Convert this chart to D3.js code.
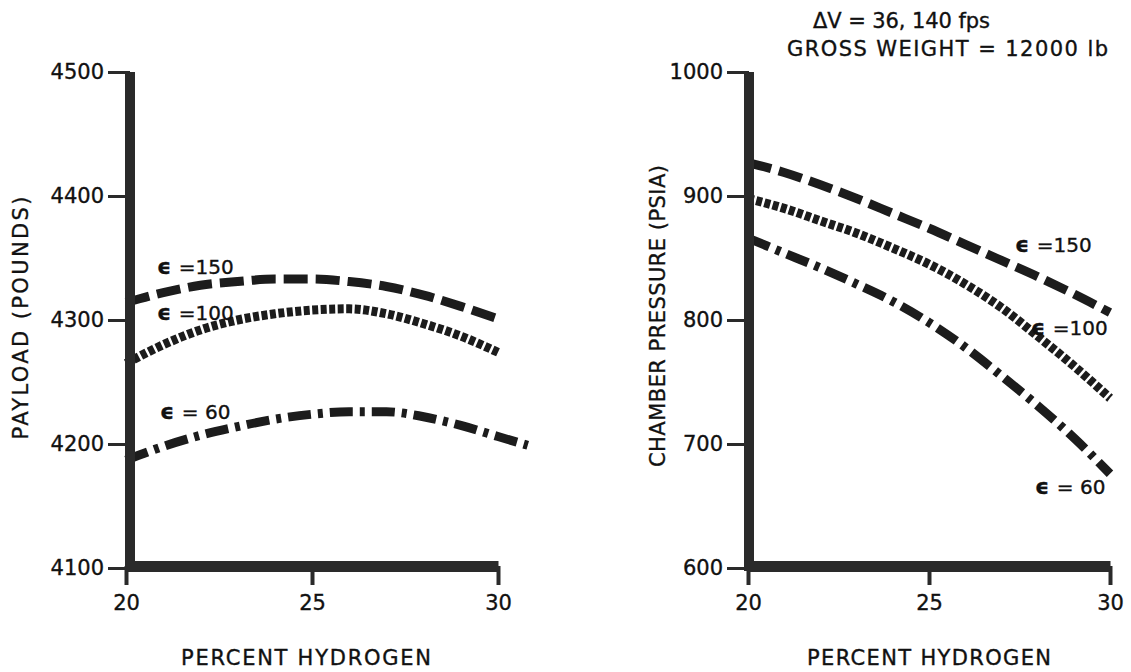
<!DOCTYPE html>
<html>
<head>
<meta charset="utf-8">
<script src="https://cdn.jsdelivr.net/npm/d3@7"></script>
<style>
  html, body { margin: 0; padding: 0; background: #fff; }
  svg { display: block; }
  text { font-family: "DejaVu Sans", "Liberation Sans", sans-serif; fill: #111; stroke: #111; stroke-width: 0.35px; }
</style>
</head>
<body>
<svg id="chart" width="1131" height="672"></svg>
<script>
// ---------- data ----------
const hydrogenPct    = [20, 21, 22, 23, 24, 25, 26, 27, 28, 29, 30];
const hydrogenPctExt = [20, 21, 22, 23, 24, 25, 26, 27, 28, 29, 30, 30.8];

const payload150 = [4314, 4322, 4328, 4331, 4333, 4333, 4331, 4327, 4320, 4311, 4301];
const payload100 = [4265, 4280, 4292, 4300, 4305, 4308, 4309, 4305, 4297, 4287, 4274];
const payload60  = [4187, 4198, 4207, 4214, 4220, 4224, 4226, 4226, 4222, 4215, 4206, 4199];

const pressure150 = [927, 919, 909, 898, 886, 874, 861, 848, 835, 821, 806];
const pressure100 = [898, 890, 880, 870, 858, 845, 829, 810, 787, 763, 737];
const pressure60  = [866, 854, 842, 829, 815, 798, 778, 755, 731, 705, 676];

const payloadTicks  = [4100, 4200, 4300, 4400, 4500];
const pressureTicks = [600, 700, 800, 900, 1000];
const hydrogenTicks = [20, 25, 30];

const epsilonLabels = ["=150", "=100", "= 60"];

const payloadTitle  = "PAYLOAD (POUNDS)";
const pressureTitle = "CHAMBER PRESSURE (PSIA)";
const xTitle        = "PERCENT HYDROGEN";
const noteLines     = ["ΔV = 36, 140 fps", "GROSS WEIGHT = 12000 lb"];

// ---------- drawing ----------
const svg = d3.select("#chart");
const ink = "#1c1c1c";
const axisInk = "#2a2a2a";
const dashes = ["24,8", "6,2.5", "23,7,5,7"];

function panel(cfg) {
  const x = d3.scaleLinear().domain([20, 30]).range(cfg.xRange);
  const y = d3.scaleLinear().domain(cfg.yDomain).range([568, 72]);
  const g = svg.append("g");

  const line = d3.line()
    .x(d => x(d[0]))
    .y(d => y(d[1]))
    .curve(d3.curveMonotoneX);

  cfg.series.forEach((s, i) => {
    g.append("path")
      .datum(s.xs.map((v, j) => [v, s.ys[j]]))
      .attr("d", line)
      .attr("fill", "none")
      .attr("stroke", ink)
      .attr("stroke-width", 9)
      .attr("stroke-dasharray", dashes[i]);
  });

  // bottom axis
  const xa = g.append("g")
    .attr("transform", `translate(0,566)`)
    .call(d3.axisBottom(x).tickValues(hydrogenTicks).tickFormat(d3.format("d"))
      .tickSize(19).tickSizeOuter(0).tickPadding(10));
  xa.select(".domain").attr("stroke", axisInk).attr("stroke-width", 11);
  xa.selectAll(".tick line").attr("stroke", axisInk).attr("stroke-width", 4);
  xa.selectAll(".tick text").attr("font-size", 21).attr("fill", "#111")
    .attr("font-family", "DejaVu Sans");

  // left axis
  const ya = g.append("g")
    .attr("transform", `translate(${cfg.yAxisX},0)`)
    .call(d3.axisLeft(y).tickValues(cfg.yTicks).tickFormat(d3.format("d"))
      .tickSize(22).tickSizeOuter(0).tickPadding(4));
  ya.select(".domain").attr("stroke", axisInk).attr("stroke-width", 10)
    .attr("d", `M0,${y(cfg.yDomain[0]) + 3}V${y(cfg.yDomain[1])}`);
  ya.selectAll(".tick line").attr("stroke", axisInk).attr("stroke-width", 3);
  ya.selectAll(".tick text").attr("font-size", 21).attr("fill", "#111")
    .attr("font-family", "DejaVu Sans");

  // titles
  g.append("text")
    .attr("transform", `translate(${cfg.yTitle[0]},${cfg.yTitle[1]}) rotate(-90)`)
    .attr("text-anchor", "middle").attr("dy", "0.36em")
    .attr("font-size", 21)
    .attr("textLength", cfg.yTitle[2]).attr("lengthAdjust", "spacing")
    .text(cfg.yTitleText);
  g.append("text")
    .attr("x", cfg.xTitle[0]).attr("y", cfg.xTitle[1])
    .attr("text-anchor", "middle").attr("dy", "0.36em")
    .attr("font-size", 21)
    .attr("textLength", cfg.xTitle[2]).attr("lengthAdjust", "spacing")
    .text(xTitle);

  // epsilon labels
  cfg.labelPos.forEach((p, i) => {
    const t = g.append("text")
      .attr("x", p[0]).attr("y", p[1]).attr("dy", "0.36em")
      .attr("font-size", 20);
    t.append("tspan").attr("font-weight", "bold").attr("font-size", 22).text("ϵ ");
    t.append("tspan").text(epsilonLabels[i]);
  });
}

panel({
  xRange: [126, 498],
  yDomain: [4100, 4500],
  yTicks: payloadTicks,
  yAxisX: 130,
  series: [
    { xs: hydrogenPct, ys: payload150 },
    { xs: hydrogenPct, ys: payload100 },
    { xs: hydrogenPctExt, ys: payload60 }
  ],
  yTitleText: payloadTitle,
  yTitle: [20, 318, 243],
  xTitle: [306, 657, 250],
  labelPos: [[157, 267], [157, 313], [160, 412]]
});

panel({
  xRange: [748, 1110],
  yDomain: [600, 1000],
  yTicks: pressureTicks,
  yAxisX: 749,
  series: [
    { xs: hydrogenPct, ys: pressure150 },
    { xs: hydrogenPct, ys: pressure100 },
    { xs: hydrogenPct, ys: pressure60 }
  ],
  yTitleText: pressureTitle,
  yTitle: [657, 316, 302],
  xTitle: [929, 657, 244],
  labelPos: [[1015, 245], [1031, 328], [1035, 487]]
});

// annotation
svg.append("text").attr("x", 813).attr("y", 28).attr("font-size", 21)
  .attr("textLength", 177).attr("lengthAdjust", "spacing").text(noteLines[0]);
svg.append("text").attr("x", 787).attr("y", 56).attr("font-size", 21)
  .attr("textLength", 321).attr("lengthAdjust", "spacing").text(noteLines[1]);
</script>
</body>
</html>
